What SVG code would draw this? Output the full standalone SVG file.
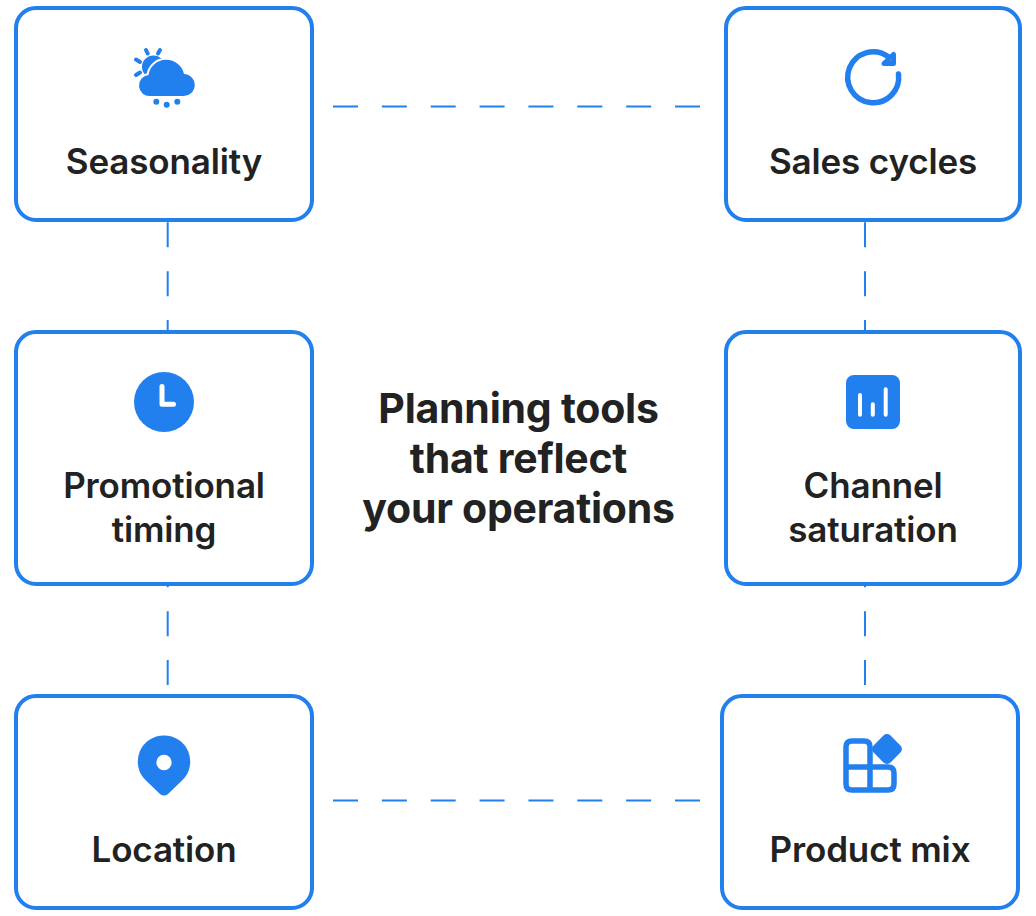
<svg xmlns="http://www.w3.org/2000/svg" width="1036" height="916" viewBox="0 0 1036 916">
<style>
.box{fill:#fff;stroke:#2280ee;stroke-width:4}
.c{fill:none;stroke:#2280ee;stroke-width:2;stroke-dasharray:25 23.860}
.i{fill:#2280ee}
.s{fill:none;stroke:#2280ee;stroke-linecap:round;stroke-linejoin:round}
.w{fill:none;stroke:#fff;stroke-linecap:round;stroke-linejoin:round}
text{font-family:Inter,"Liberation Sans",sans-serif;fill:#222;text-anchor:middle}
.l{font-size:35px;font-weight:600;letter-spacing:-.15px}
.t{font-size:41px;font-weight:700;letter-spacing:-.25px}
</style>
<rect width="1036" height="916" fill="#fff"/>
<g id="connectors">
<path class="c" d="M333 106.400H701"/>
<path class="c" d="M333 800.400H701"/>
<path class="c" d="M167.700 222.300V331"/>
<path class="c" d="M865 222.300V331"/>
<path class="c" d="M167.700 685V585"/>
<path class="c" d="M865 685V585"/>
</g>
<g id="seasonality">
<rect class="box" x="16" y="8" width="296" height="212" rx="20"/>
<path class="s" stroke-width="4" d="M146 50L147.700 53.500M160 50L158 53.500M136 59.500L140 62M136 75L140 72.500"/>
<circle class="i" cx="153.500" cy="67" r="11.500"/>
<path class="i" stroke="#fff" stroke-width="4" paint-order="stroke" d="M150.500 96A10.500 10.500 0 0 1 148.500 75A18 17.500 0 0 1 184 74A11 11 0 0 1 183.500 96Z"/>
<circle class="i" cx="156.300" cy="101.700" r="3"/><circle class="i" cx="166.700" cy="104.700" r="3"/><circle class="i" cx="177.300" cy="101.700" r="3"/>
<text class="l" x="164" y="174">Seasonality</text>
</g>
<g id="sales-cycles">
<rect class="box" x="726" y="8" width="294" height="212" rx="20"/>
<path class="s" stroke-width="5.500" d="M898.500 74A25.500 25.500 0 1 1 888 56.500"/>
<path class="i s" stroke-width="5" d="M893.500 54.500V63.500H884Z"/>
<text class="l" x="873" y="174">Sales cycles</text>
</g>
<g id="promotional-timing">
<rect class="box" x="16" y="332" width="296" height="252" rx="20"/>
<circle class="i" cx="164" cy="402" r="30"/>
<path class="w" stroke-width="5" d="M162 386.500V404.300H173.500"/>
<text class="l" x="164" y="498">Promotional</text>
<text class="l" x="164" y="542">timing</text>
</g>
<g id="channel-saturation">
<rect class="box" x="726" y="332" width="294" height="252" rx="20"/>
<rect class="i" x="846" y="375" width="54" height="54" rx="8"/>
<path class="w" stroke-width="4" d="M860 395V414.700M872.800 404.300V414.700M885.700 389.300V414.700"/>
<text class="l" x="873" y="498">Channel</text>
<text class="l" x="873" y="542">saturation</text>
</g>
<g id="location">
<rect class="box" x="16" y="696" width="296" height="212" rx="20"/>
<path class="i" d="M164 735.500A26 26 0 0 1 182.500 780L168 794Q164 797 160 794L145.500 780A26 26 0 0 1 164 735.500Z"/>
<circle cx="164" cy="762.500" r="7.700" fill="#fff"/>
<text class="l" x="164" y="862">Location</text>
</g>
<g id="product-mix">
<rect class="box" x="722" y="696" width="296" height="212" rx="20"/>
<path class="s" stroke-width="5.500" d="M870 767V747Q870 741 864 741H852Q846 741 846 747V784Q846 790 852 790H888Q894 790 894 784V773Q894 767 888 767H846M870 767V790"/>
<rect class="i" x="875" y="737" width="24" height="24" rx="5" transform="rotate(45 887 749)"/>
<text class="l" x="870" y="862">Product mix</text>
</g>
<g id="title">
<text class="t" x="518.500" y="423">Planning tools</text>
<text class="t" x="518.500" y="473">that reflect</text>
<text class="t" x="518.500" y="523">your operations</text>
</g>
</svg>
